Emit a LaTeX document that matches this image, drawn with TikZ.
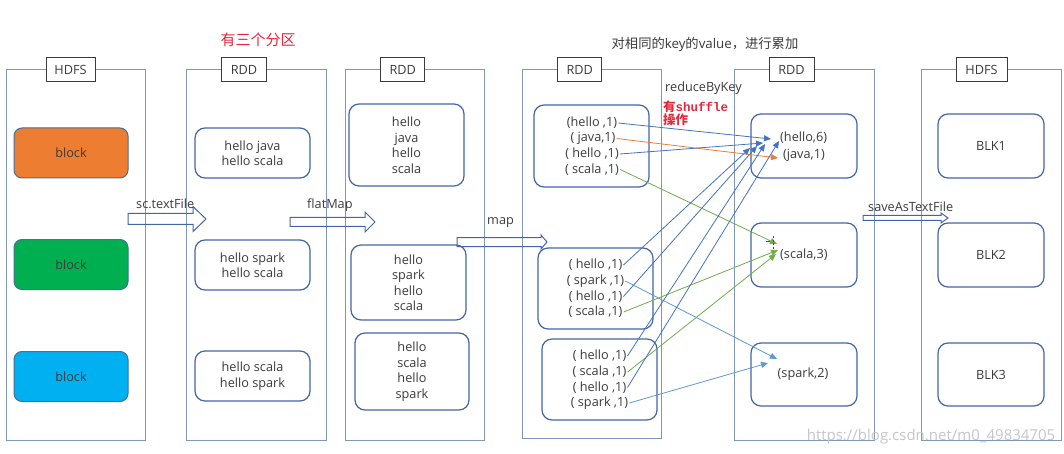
\documentclass[tikz,border=0pt]{standalone}
\usepackage{fontspec}
\setmainfont{Open Sans}
\newfontfamily\cjk{Noto Sans CJK SC}
\newfontfamily\monob{Liberation Mono}
\usetikzlibrary{arrows.meta}
\definecolor{panelc}{RGB}{130,150,185}
\definecolor{lblc}{RGB}{60,60,60}
\definecolor{boxc}{RGB}{68,100,170}
\definecolor{blkc}{RGB}{65,113,156}
\definecolor{txt}{RGB}{60,60,60}
\definecolor{orangeb}{RGB}{237,125,49}
\definecolor{greenb}{RGB}{0,176,80}
\definecolor{blueb}{RGB}{0,176,240}
\definecolor{ablue}{RGB}{68,114,196}
\definecolor{alblue}{RGB}{91,155,213}
\definecolor{aorange}{RGB}{237,125,49}
\definecolor{agreen}{RGB}{112,173,71}
\definecolor{redt}{RGB}{230,40,60}
\newcommand\txtfont{\fontsize{12.7}{15.5}\selectfont}
\begin{document}
\begin{tikzpicture}[x=1pt,y=-1pt,
  panel/.style={draw=panelc,line width=1pt,minimum width=139pt,minimum height=370pt,inner sep=0pt},
  lbl/.style={draw=lblc,fill=white,line width=0.9pt,minimum width=48pt,minimum height=24pt,inner sep=0pt,font=\txtfont,text=txt},
  rbox/.style={draw=boxc,rounded corners=10pt,line width=1.2pt,inner sep=0pt,align=center,font=\txtfont,text=txt},
  blk/.style={draw=blkc,rounded corners=8pt,line width=1pt,minimum width=114pt,minimum height=50pt,font=\txtfont,text=txt},
  ln/.style={inner sep=1pt,font=\txtfont,text=txt},
  fat/.style={draw=boxc,line width=1pt,line join=miter},
  con/.style={line width=0.8pt,-{Triangle[length=7pt,width=6pt]}},
]
\useasboundingbox (0,0) rectangle (1064,454);
\fill[white] (0,0) rectangle (1064,454);

% panels
\node[panel] (p1) at (75.5,255) {};
\node[panel,minimum width=140pt] (p2) at (256,255) {};
\node[panel] (p3) at (414.5,255) {};
\node[panel,minimum height=368pt] (p4) at (591.5,254) {};
\node[panel,minimum width=140pt] (p5) at (804,255) {};
\node[panel,minimum width=140pt] (p6) at (991,255) {};

% panel labels
\node[lbl,minimum width=49pt] (l1) at (70.5,69.5) {HDFS};
\node[lbl,minimum width=45pt] (l2) at (244,69.5) {RDD};
\node[lbl,minimum width=44pt] (l3) at (402.7,69.5) {RDD};
\node[lbl,minimum width=44pt] (l4) at (579.7,69.5) {RDD};
\node[lbl,minimum width=45pt] (l5) at (791.5,69.5) {RDD};
\node[lbl,minimum width=51pt] (l6) at (981.5,69.5) {HDFS};

% HDFS blocks
\node[blk,fill=orangeb] (b1) at (71,153) {block};
\node[blk,fill=greenb] (b2) at (71,264.5) {block};
\node[blk,fill=blueb] (b3) at (71,376.5) {block};

% RDD partitions (panel 2)
\node[rbox,minimum width=115pt,minimum height=50pt] (r1) at (252.5,153) {hello java\\hello scala};
\node[rbox,minimum width=115pt,minimum height=50pt] (r2) at (252.5,265) {hello spark\\hello scala};
\node[rbox,minimum width=115pt,minimum height=50pt] (r3) at (252.5,376) {hello scala\\hello spark};

% flatMap (panel 3)
\node[rbox,minimum width=115pt,minimum height=82pt] (f1) at (406.5,145) {hello\\java\\hello\\scala};
\node[rbox,minimum width=115pt,minimum height=75pt] (f2) at (408.5,282.5) {hello\\spark\\hello\\scala};
\node[rbox,minimum width=114pt,minimum height=77pt] (f3) at (412,371.5) {hello\\scala\\hello\\spark};

% map (panel 4)
\node[rbox,minimum width=115pt,minimum height=82pt] (m1) at (591.5,146) {};
\node[rbox,minimum width=115pt,minimum height=81pt] (m2) at (595.5,288.5) {};
\node[rbox,minimum width=115pt,minimum height=81pt] (m3) at (599.5,379.5) {};
\node[ln] (a1) at (592,123) {(hello ,1)};
\node[ln] (a2) at (593,138.5) {( java,1)};
\node[ln] (a3) at (592,154) {( hello ,1)};
\node[ln] (a4) at (592,169.5) {( scala ,1)};
\node[ln] (c1) at (595.5,265) {( hello ,1)};
\node[ln] (c2) at (595.5,281) {( spark ,1)};
\node[ln] (c3) at (595.5,296.5) {( hello ,1)};
\node[ln] (c4) at (595.5,312) {( scala ,1)};
\node[ln] (d1) at (599.5,356) {( hello ,1)};
\node[ln] (d2) at (599.5,372) {( scala ,1)};
\node[ln] (d3) at (599.5,387.5) {( hello ,1)};
\node[ln] (d4) at (599.5,403) {( spark ,1)};

% reduceByKey (panel 5)
\node[rbox,minimum width=106pt,minimum height=64pt] (k1) at (804,146) {};
\node[rbox,minimum width=106pt,minimum height=64pt] (k2) at (804,255) {};
\node[rbox,minimum width=106pt,minimum height=63pt] (k3) at (804,374.5) {};
\node[ln,anchor=west,inner sep=0pt] (h6) at (780,138) {(hello,6)};
\node[ln,anchor=west,inner sep=0pt] (j1) at (783,155) {(java,1)};
\node[ln,anchor=west,inner sep=0pt] (s3) at (780,255) {(scala,3)};
\node[ln] (sp2) at (803,374) {(spark,2)};

% HDFS out (panel 6)
\node[rbox,minimum width=106pt,minimum height=64pt] (o1) at (991,146) {BLK1};
\node[rbox,minimum width=106pt,minimum height=64pt] (o2) at (991,255) {BLK2};
\node[rbox,minimum width=106pt,minimum height=63pt] (o3) at (991,374.5) {BLK3};

% fat arrows
\draw[fat] (128,213.5) -- (193,213.5) -- (193,206.5) -- (206,219) -- (193,231.5) -- (193,224.5) -- (128,224.5) -- cycle;
\draw[fat] (290,217.5) -- (365,217.5) -- (365,212) -- (375,222) -- (365,232) -- (365,226.5) -- (290,226.5) -- cycle;
\draw[fat] (457,237.5) -- (541,237.5) -- (541,235) -- (547,242) -- (541,249) -- (541,246.5) -- (457,246.5) -- cycle;
\draw[fat] (863,215.5) -- (941,215.5) -- (941,213) -- (948,218) -- (941,223) -- (941,220.5) -- (863,220.5) -- cycle;
\node[ln,anchor=south west,inner sep=0pt] (tf) at (136,209) {sc.textFile};
\node[ln,anchor=south west,inner sep=0pt] (fm) at (307,212) {flatMap};
\node[ln,anchor=south west,inner sep=0pt] (mp) at (487,228) {map};
\node[ln,anchor=south west,inner sep=0pt] (sv) at (868,212) {saveAsTextFile};

% top annotations
\node[font=\cjk\fontsize{15}{17}\selectfont,text=redt] (n1) at (258,40) {有三个分区};
\node[font=\fontsize{13.3}{15}\selectfont,text=txt] (n2) at (705,44) {{\cjk 对相同的}key{\cjk 的}value{\cjk ，进行累加}};
\node[ln,anchor=west,inner sep=0pt] (rk) at (665,88) {reduceByKey};
\node[anchor=north west,inner sep=0pt,text=redt,align=left,font=\fontsize{12.5}{13}\selectfont] (sh) at (663,101)
  {{\cjk\bfseries 有}{\monob\bfseries shuffle}\\{\cjk\bfseries 操作}};

% target coordinates
\coordinate (t1) at (771,139);
\coordinate (t2) at (778,158);
\coordinate (t3) at (763,143);
\coordinate (t4) at (777,244);
\coordinate (t5) at (750,148);
\coordinate (t6) at (777,359);
\coordinate (t7) at (757,146);
\coordinate (t8) at (778,250);
\coordinate (t9) at (765,144);
\coordinate (t10) at (776,254);
\coordinate (t11) at (779,141);
\coordinate (t12) at (768,363);

\draw[con,ablue] (a1.east) -- (t1);
\draw[con,aorange] (a2.east) -- (t2);
\draw[con,ablue] (a3.east) -- (t3);
\draw[con,agreen] (a4.east) -- (t4);
\draw[con,ablue] (c1.east) -- (t5);
\draw[con,alblue] (c2.east) -- (t6);
\draw[con,ablue] (c3.east) -- (t7);
\draw[con,agreen] (c4.east) -- (t8);
\draw[con,ablue] (d1.east) -- (t9);
\draw[con,agreen] (d2.east) -- (t10);
\draw[con,ablue] (d3.east) -- (t11);
\draw[con,alblue] (d4.east) -- (t12);

% small edit marks
\draw[red,line width=1pt] (766,241) -- (770,241);
\draw[red,line width=0.8pt,dashed,dash pattern=on 2pt off 1.5pt] (773,236) -- (773,249);

% watermark
\node[text=black!22,font=\fontsize{15}{17}\selectfont,inner sep=0pt] (wm) at (931,437) {https://blog.csdn.net/m0\_49834705};
\end{tikzpicture}
\end{document}
